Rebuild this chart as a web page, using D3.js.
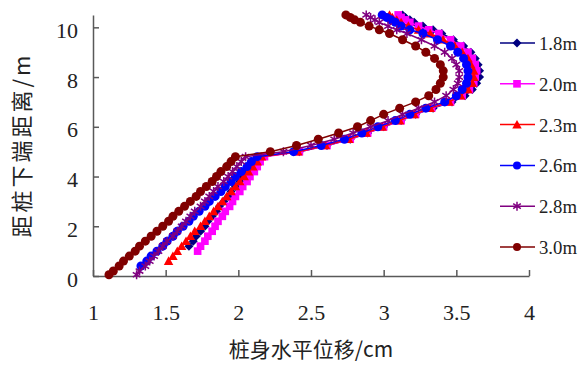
<!DOCTYPE html>
<html lang="zh">
<head>
<meta charset="UTF-8">
<title>桩身水平位移</title>
<script src="https://d3js.org/d3.v7.min.js"></script>
<style>
  body { margin: 0; background: #fff; }
  svg { display: block; }
  .axis path, .axis line { stroke: #595959; stroke-width: 1.5; }
  .title { font-family: "Noto Sans CJK SC", sans-serif; fill: #222; }
</style>
</head>
<body>
<svg id="chart" width="581" height="367"></svg>
<script>
// depth below pile tip (m), shared by all series
const depth = [0.05, 0.2, 0.4, 0.6, 0.8, 1.0, 1.2, 1.4, 1.6, 1.8, 2.0, 2.2, 2.4, 2.6, 2.8, 3.0, 3.2, 3.4, 3.6, 3.8, 4.0, 4.2, 4.4, 4.6, 4.8,
  5.0, 5.25, 5.5, 5.75, 6.0, 6.25, 6.5, 6.75, 7.0, 7.25, 7.5, 7.75, 8.0, 8.25, 8.5, 8.75, 9.0, 9.25, 9.5, 9.75,
  9.9, 10.05, 10.2, 10.3, 10.4, 10.5];

// horizontal displacement (cm); null where the series has no point
const pile18 = [null, null, null, null, null, null, 1.66, 1.69, 1.71, 1.74, 1.77, 1.79, 1.82, 1.85, 1.87, 1.90, 1.93, 1.95, 1.98, 2.01, 2.03, 2.06, 2.09, 2.11, 2.15,
  2.42, 2.61, 2.77, 2.89, 3.00, 3.12, 3.22, 3.34, 3.47, 3.56, 3.61, 3.64, 3.66, 3.66, 3.65, 3.63, 3.60, 3.55, 3.48, 3.40,
  3.34, 3.27, 3.21, 3.18, 3.15, 3.13];
const pile20 = [null, null, null, null, null, 1.72, 1.74, 1.77, 1.79, 1.82, 1.84, 1.86, 1.89, 1.91, 1.94, 1.96, 1.98, 2.01, 2.03, 2.06, 2.08, 2.11, 2.13, 2.15, 2.18,
  2.42, 2.61, 2.77, 2.89, 3.00, 3.12, 3.22, 3.33, 3.46, 3.54, 3.59, 3.62, 3.63, 3.64, 3.63, 3.61, 3.58, 3.53, 3.46, 3.38,
  3.31, 3.24, 3.18, 3.15, 3.12, 3.10];
const pile23 = [null, null, null, 1.52, 1.55, 1.58, 1.61, 1.64, 1.67, 1.70, 1.74, 1.77, 1.80, 1.83, 1.86, 1.89, 1.92, 1.95, 1.98, 2.01, 2.04, 2.07, 2.10, 2.13, 2.16,
  2.41, 2.60, 2.76, 2.88, 2.99, 3.11, 3.21, 3.32, 3.45, 3.53, 3.58, 3.61, 3.62, 3.62, 3.60, 3.58, 3.54, 3.49, 3.41, 3.32,
  3.24, 3.17, 3.12, 3.09, 3.06, 3.04];
const pile26 = [null, null, 1.33, 1.37, 1.40, 1.44, 1.48, 1.51, 1.55, 1.58, 1.62, 1.66, 1.69, 1.73, 1.77, 1.80, 1.84, 1.88, 1.91, 1.95, 1.98, 2.02, 2.06, 2.09, 2.13,
  2.38, 2.57, 2.73, 2.85, 2.96, 3.08, 3.18, 3.29, 3.42, 3.50, 3.54, 3.57, 3.58, 3.58, 3.57, 3.55, 3.51, 3.46, 3.37, 3.27,
  3.18, 3.12, 3.08, 3.05, 3.02, 2.99];
const pile28 = [1.30, 1.32, 1.36, 1.39, 1.42, 1.45, 1.48, 1.51, 1.55, 1.58, 1.61, 1.64, 1.67, 1.70, 1.74, 1.77, 1.80, 1.83, 1.86, 1.90, 1.93, 1.96, 1.99, 2.02, 2.05,
  2.31, 2.50, 2.66, 2.79, 2.91, 3.03, 3.13, 3.24, 3.35, 3.43, 3.48, 3.51, 3.52, 3.52, 3.50, 3.47, 3.42, 3.35, 3.26, 3.16,
  3.09, 3.03, 2.97, 2.94, 2.91, 2.88];
const pile30 = [1.11, 1.14, 1.18, 1.21, 1.25, 1.29, 1.32, 1.36, 1.40, 1.44, 1.48, 1.52, 1.55, 1.59, 1.63, 1.67, 1.71, 1.74, 1.78, 1.82, 1.85, 1.88, 1.92, 1.95, 1.98,
  2.22, 2.40, 2.55, 2.69, 2.82, 2.91, 3.00, 3.11, 3.22, 3.31, 3.36, 3.39, 3.41, 3.41, 3.39, 3.35, 3.29, 3.22, 3.13, 3.04,
  2.97, 2.90, 2.84, 2.80, 2.77, 2.74];

const seriesNames = ["1.8m", "2.0m", "2.3m", "2.6m", "2.8m", "3.0m"];
const seriesValues = [pile18, pile20, pile23, pile26, pile28, pile30];
const seriesColors = ["#000080", "#ff00ff", "#ff0000", "#0000ff", "#800080", "#800000"];
const seriesMarkers = ["diamond", "square", "triangle", "circle", "star", "circle"];

const xTicks = [1, 1.5, 2, 2.5, 3, 3.5, 4];
const yTicks = [0, 2, 4, 6, 8, 10];

const serifFont = '"Liberation Serif", "Times New Roman", "DejaVu Serif", serif';

const svg = d3.select("#chart");

const x = d3.scaleLinear().domain([1, 4]).range([93, 529]);
const y = d3.scaleLinear().domain([0, 10.5]).range([276, 14.9]);

// marker path by type
function markerPath(type, r) {
  switch (type) {
    case "diamond": return `M0,${-r}L${r},0L0,${r}L${-r},0Z`;
    case "square": return `M${-r * 0.85},${-r * 0.85}H${r * 0.85}V${r * 0.85}H${-r * 0.85}Z`;
    case "triangle": return `M0,${-r * 1.05}L${r * 1.05},${r * 0.85}L${-r * 1.05},${r * 0.85}Z`;
    case "star": {
      const a = r * 0.85, b = r * 0.55;
      return `M0,${-r}V${r}M${-a},${-b}L${a},${b}M${-a},${b}L${a},${-b}`;
    }
    default: return d3.symbol(d3.symbolCircle, Math.PI * r * r)();
  }
}

function drawMarker(sel, type, color, r) {
  sel.attr("d", markerPath(type, r));
  if (type === "star") {
    sel.attr("fill", "none").attr("stroke", color).attr("stroke-width", 1.5);
  } else {
    sel.attr("fill", color).attr("stroke", "none");
  }
}

// axes
const xAxis = svg.append("g")
  .attr("class", "axis")
  .attr("transform", "translate(0,276)")
  .call(d3.axisBottom(x).tickValues(xTicks).tickSizeInner(-6).tickSizeOuter(0).tickFormat(d3.format("")));
xAxis.selectAll(".tick text").attr("y", 44).attr("dy", 0);

const yAxis = svg.append("g")
  .attr("class", "axis")
  .attr("transform", "translate(93,0)")
  .call(d3.axisLeft(y).tickValues(yTicks).tickSizeInner(-6).tickSizeOuter(0));
yAxis.selectAll(".tick text").attr("x", -15).attr("dy", 0).attr("y", 10);

svg.selectAll(".axis")
  .attr("font-family", serifFont)
  .attr("font-size", 22);
svg.selectAll(".axis .tick text")
  .style("font-family", serifFont)
  .style("font-size", "22px")
  .attr("fill", "#222");

// series
const line = d3.line()
  .defined(d => d[0] != null)
  .x(d => x(d[0]))
  .y(d => y(d[1]));

seriesValues.forEach((vals, i) => {
  const pts = vals.map((v, j) => [v, depth[j]]);
  const g = svg.append("g");
  g.append("path")
    .datum(pts)
    .attr("fill", "none")
    .attr("stroke", seriesColors[i])
    .attr("stroke-width", 1.5)
    .attr("d", line);
  g.selectAll("path.mk")
    .data(pts.filter(d => d[0] != null))
    .join("path")
    .attr("class", "mk")
    .attr("transform", d => `translate(${x(d[0])},${y(d[1])})`)
    .call(drawMarker, seriesMarkers[i], seriesColors[i], 4.5);
});

// legend
const legend = svg.append("g");
seriesNames.forEach((name, i) => {
  const ly = 43 + i * 40.8;
  const item = legend.append("g").attr("transform", `translate(0,${ly})`);
  item.append("line")
    .attr("x1", 500).attr("x2", 535)
    .attr("stroke", seriesColors[i]).attr("stroke-width", 1.5);
  item.append("path")
    .attr("transform", "translate(517,0)")
    .call(drawMarker, seriesMarkers[i], seriesColors[i], seriesMarkers[i] === "circle" ? 4 : 4.5);
  item.append("text")
    .attr("x", 539).attr("y", 7)
    .style("font-family", serifFont)
    .style("font-size", "19px")
    .attr("fill", "#222")
    .attr("textLength", 38)
    .attr("lengthAdjust", "spacingAndGlyphs")
    .text(name);
});

// axis titles
svg.append("text")
  .attr("class", "title")
  .attr("x", 311).attr("y", 357)
  .attr("text-anchor", "middle")
  .attr("font-size", 21)
  .text("桩身水平位移/cm");

svg.append("text")
  .attr("class", "title")
  .attr("transform", "translate(30,145) rotate(-90)")
  .attr("text-anchor", "middle")
  .attr("font-size", 22)
  .attr("letter-spacing", 3)
  .text("距桩下端距离/m");
</script>
</body>
</html>
